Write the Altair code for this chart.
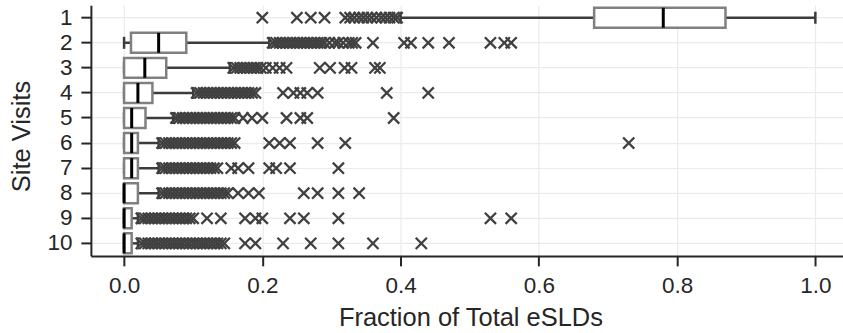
import altair as alt
import pandas as pd

# ---- data -------------------------------------------------------------
visits = ["1", "2", "3", "4", "5", "6", "7", "8", "9", "10"]
whisker_lo = [0.40, 0.0, 0.0, 0.0, 0.0, 0.0, 0.0, 0.0, 0.0, 0.0]
q1 = [0.68, 0.01, 0.0, 0.0, 0.0, 0.0, 0.0, 0.0, 0.0, 0.0]
median = [0.78, 0.05, 0.03, 0.02, 0.011, 0.011, 0.011, 0.0, 0.0, 0.0]
q3 = [0.87, 0.09, 0.061, 0.041, 0.031, 0.02, 0.02, 0.02, 0.011, 0.011]
whisker_hi = [1.0, 0.21, 0.153, 0.10, 0.071, 0.05, 0.05, 0.05, 0.02, 0.02]

out_1 = [0.20, 0.25, 0.27, 0.29, 0.32, 0.327, 0.333, 0.34, 0.346, 0.352,
         0.358, 0.365, 0.372, 0.378, 0.384, 0.39, 0.395]
out_2 = [0.215, 0.22, 0.225, 0.23, 0.235, 0.24, 0.245, 0.25, 0.255, 0.26,
         0.265, 0.27, 0.275, 0.28, 0.285, 0.29, 0.297, 0.305, 0.31, 0.317,
         0.325, 0.33, 0.335, 0.36, 0.405, 0.415, 0.44, 0.47, 0.53, 0.55, 0.56]
out_3 = [0.158, 0.163, 0.168, 0.173, 0.178, 0.183, 0.188, 0.193, 0.198,
         0.205, 0.215, 0.225, 0.235, 0.283, 0.298, 0.319, 0.329, 0.363, 0.37]
out_4 = [0.105, 0.11, 0.115, 0.12, 0.125, 0.13, 0.135, 0.14, 0.145, 0.15,
         0.155, 0.16, 0.165, 0.17, 0.175, 0.18, 0.185, 0.19,
         0.23, 0.245, 0.255, 0.265, 0.28, 0.38, 0.44]
out_5 = [0.075, 0.08, 0.085, 0.09, 0.095, 0.10, 0.105, 0.11, 0.115, 0.12,
         0.125, 0.13, 0.135, 0.14, 0.145, 0.15, 0.155, 0.16,
         0.172, 0.185, 0.20, 0.235, 0.255, 0.265, 0.39]
out_6 = [0.055, 0.06, 0.065, 0.07, 0.075, 0.08, 0.085, 0.09, 0.095, 0.10,
         0.105, 0.11, 0.115, 0.12, 0.125, 0.13, 0.135, 0.14, 0.145, 0.15,
         0.155, 0.16, 0.21, 0.225, 0.24, 0.28, 0.32, 0.73]
out_7 = [0.055, 0.06, 0.065, 0.07, 0.075, 0.08, 0.085, 0.09, 0.095, 0.10,
         0.105, 0.11, 0.115, 0.12, 0.125, 0.13, 0.135,
         0.155, 0.165, 0.18, 0.21, 0.22, 0.24, 0.31]
out_8 = [0.055, 0.06, 0.065, 0.07, 0.075, 0.08, 0.085, 0.09, 0.095, 0.10,
         0.105, 0.11, 0.115, 0.12, 0.125, 0.13, 0.135, 0.14, 0.145, 0.15,
         0.165, 0.18, 0.195, 0.26, 0.28, 0.31, 0.34]
out_9 = [0.025, 0.03, 0.035, 0.04, 0.045, 0.05, 0.055, 0.06, 0.065, 0.07,
         0.075, 0.08, 0.085, 0.09, 0.095, 0.10,
         0.12, 0.14, 0.175, 0.19, 0.20, 0.24, 0.26, 0.31, 0.53, 0.56]
out_10 = [0.025, 0.03, 0.035, 0.04, 0.045, 0.05, 0.055, 0.06, 0.065, 0.07,
          0.075, 0.08, 0.085, 0.09, 0.095, 0.10, 0.105, 0.11, 0.115, 0.12,
          0.125, 0.13, 0.135, 0.14, 0.145,
          0.175, 0.19, 0.23, 0.27, 0.31, 0.36, 0.43]

outliers = [out_1, out_2, out_3, out_4, out_5, out_6, out_7, out_8, out_9, out_10]

# ---- tables -------------------------------------------------------------
box_df = pd.DataFrame({
    "visit": visits, "lo": whisker_lo, "q1": q1, "med": median,
    "q3": q3, "hi": whisker_hi,
})
out_df = pd.DataFrame(
    [{"visit": v, "val": x} for v, lst in zip(visits, outliers) for x in lst]
)

FONT = "Liberation Sans"
DARK = "#262626"

xscale = alt.Scale(domain=[-0.048, 1.04], nice=False, zero=False)
yscale = alt.Scale(domain=visits, paddingInner=0, paddingOuter=0)

x_axis = alt.Axis(
    title="Fraction of Total eSLDs", values=[0, 0.2, 0.4, 0.6, 0.8, 1.0],
    format=".1f", grid=True, labelPadding=9,
    titleX=380, titleY=70, titleBaseline="alphabetic", titleAlign="center",
)
y_axis = alt.Axis(
    title="Site Visits", grid=True, bandPosition=0.5, labelPadding=9,
    titleAngle=-90, titleX=-61, titleY=131, titleBaseline="alphabetic",
    titleAlign="center",
)

base_box = alt.Chart(box_df)

whisker = base_box.mark_rule(color="#3c3c3c", strokeWidth=2.5).encode(
    x=alt.X("lo:Q", scale=xscale, axis=x_axis),
    x2="hi:Q",
    y=alt.Y("visit:N", scale=yscale, axis=y_axis, sort=visits),
)
cap_lo = base_box.mark_tick(color="#3c3c3c", thickness=2.5, size=12, opacity=1).encode(
    x=alt.X("lo:Q", scale=xscale), y=alt.Y("visit:N", sort=visits)
)
cap_hi = base_box.mark_tick(color="#3c3c3c", thickness=2.5, size=12, opacity=1).encode(
    x=alt.X("hi:Q", scale=xscale), y=alt.Y("visit:N", sort=visits)
)
box = base_box.mark_bar(
    fill="white", stroke="#808080", strokeWidth=2.5, size=20, opacity=1
).encode(
    x=alt.X("q1:Q", scale=xscale), x2="q3:Q", y=alt.Y("visit:N", sort=visits)
)
med = base_box.mark_tick(color="black", thickness=3, size=20, opacity=1).encode(
    x=alt.X("med:Q", scale=xscale), y=alt.Y("visit:N", sort=visits)
)
pts = alt.Chart(out_df).mark_point(
    shape="M-1,-1L1,1M-1,1L1,-1", filled=False, color="#404040",
    strokeWidth=2.3, size=125, opacity=1,
).encode(
    x=alt.X("val:Q", scale=xscale), y=alt.Y("visit:N", sort=visits)
)

chart = alt.layer(whisker, cap_lo, cap_hi, box, med, pts).properties(
    width=753, height=251,
    autosize=alt.AutoSizeParams(type="none"),
    padding={"left": 91, "top": 5, "right": 0, "bottom": 77},
).configure_view(stroke=None).configure_axis(
    labelFont=FONT, titleFont=FONT, labelFontSize=22.5, titleFontSize=25.5,
    titleFontWeight="normal", labelColor=DARK, titleColor=DARK,
    domainColor=DARK, domainWidth=2, tickColor=DARK, tickWidth=2, tickSize=10,
    gridColor="#ebebeb", gridWidth=1.2,
)

chart.save("out.html", embed_options={"renderer": "svg", "actions": False})
